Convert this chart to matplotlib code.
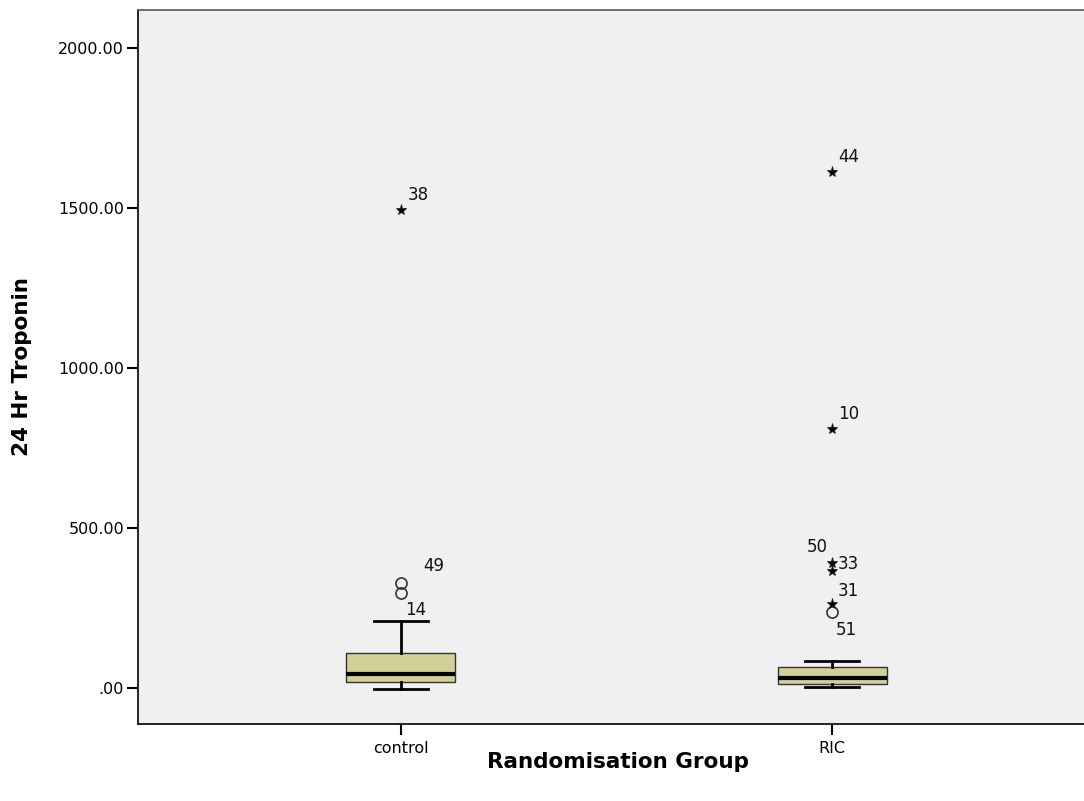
"""SPSS-style boxplot of 24 Hr Troponin by randomisation group."""
import matplotlib.pyplot as plt
from matplotlib.ticker import FuncFormatter

plt.rcParams['font.family'] = ['DejaVu Sans']

# ---- data ----
groups = ['control', 'RIC']
whislo = [-4, 4]
q1 = [19, 14]
med = [44, 30]
q3 = [109, 66]
whishi = [209, 84]

# mild outliers (circles) and extreme outliers (stars): (value, case label)
mild = [[(328, '49'), (297, '14')], [(237, '51')]]
extreme = [[(1494, '38')], [(1612, '44'), (809, '10'), (390, '50'), (365, '33'), (262, '31')]]

yticks = [0, 500, 1000, 1500, 2000]

BOX_COLOR = '#D3CF99'
BG = '#F0F0F0'

fig = plt.figure(figsize=(10.84, 8.01), dpi=100)
fig.patch.set_facecolor('white')
ax = fig.add_axes([138 / 1084, 77 / 801, (1095 - 138) / 1084, 714 / 801])
ax.set_facecolor(BG)

stats = []
for i, g in enumerate(groups):
    stats.append(dict(label=g, whislo=whislo[i], q1=q1[i], med=med[i],
                      q3=q3[i], whishi=whishi[i], fliers=[]))

positions = [1, 2]
ax.bxp(stats, positions=positions, widths=0.253, patch_artist=True,
       showfliers=False, whiskerprops=dict(color='black', lw=2),
       capprops=dict(color='black', lw=2), capwidths=0.125,
       boxprops=dict(facecolor=BOX_COLOR, edgecolor='#333333', lw=1),
       medianprops=dict(color='black', lw=3))

# label offsets (points) and horizontal alignment for each case label
offsets = {'49': (16, 12), '14': (3, -12), '38': (5, 11), '44': (4.3, 10.8),
           '10': (4.3, 10.8), '50': (-3, 11.5), '33': (4.3, 5), '31': (4.3, 9.4),
           '51': (3, -13)}
aligns = {'50': 'right'}

def label_case(pos, v, lab):
    ax.annotate(lab, (pos, v), xytext=offsets[lab], textcoords='offset points',
                fontsize=12, color='#111111', ha=aligns.get(lab, 'left'), va='center')

for pos, pts in zip(positions, mild):
    for v, lab in pts:
        ax.plot(pos, v, marker='o', ms=8, mfc='none', mec='#333333', mew=1.2,
                ls='none', zorder=4)
        label_case(pos, v, lab)

for pos, pts in zip(positions, extreme):
    for v, lab in pts:
        ax.plot(pos, v, marker='*', ms=8, mfc='black', mec='#222222', mew=0.6,
                ls='none', zorder=4)
        label_case(pos, v, lab)

ax.set_xlim(0.39, 2.61)
ax.set_ylim(-112.5, 2118.75)
ax.set_yticks(yticks)
ax.yaxis.set_major_formatter(FuncFormatter(lambda v, p: '.00' if v == 0 else f'{v:.2f}'))
ax.set_xticks(positions)
ax.set_xticklabels(groups)
ax.tick_params(axis='both', direction='out', length=8, width=1.5,
               labelsize=11.5, colors='black')
ax.tick_params(axis='y', pad=2)
ax.tick_params(axis='x', pad=4)

for side in ['top', 'left', 'bottom']:
    ax.spines[side].set_color('black')
    ax.spines[side].set_linewidth(1.2)
ax.spines['top'].set_color('#555555')
ax.spines['right'].set_visible(False)

ax.set_ylabel('24 Hr Troponin', fontsize=15.5, fontweight='bold')
ax.set_xlabel('Randomisation Group', fontsize=15.5, fontweight='bold')
ax.yaxis.set_label_coords(-0.121, 0.5)
ax.xaxis.set_label_coords(0.5016, -0.053)
ax.yaxis.label.set_va('center')
ax.xaxis.label.set_va('center')

fig.savefig('out.png', dpi=100, facecolor=fig.get_facecolor())
plt.close()
